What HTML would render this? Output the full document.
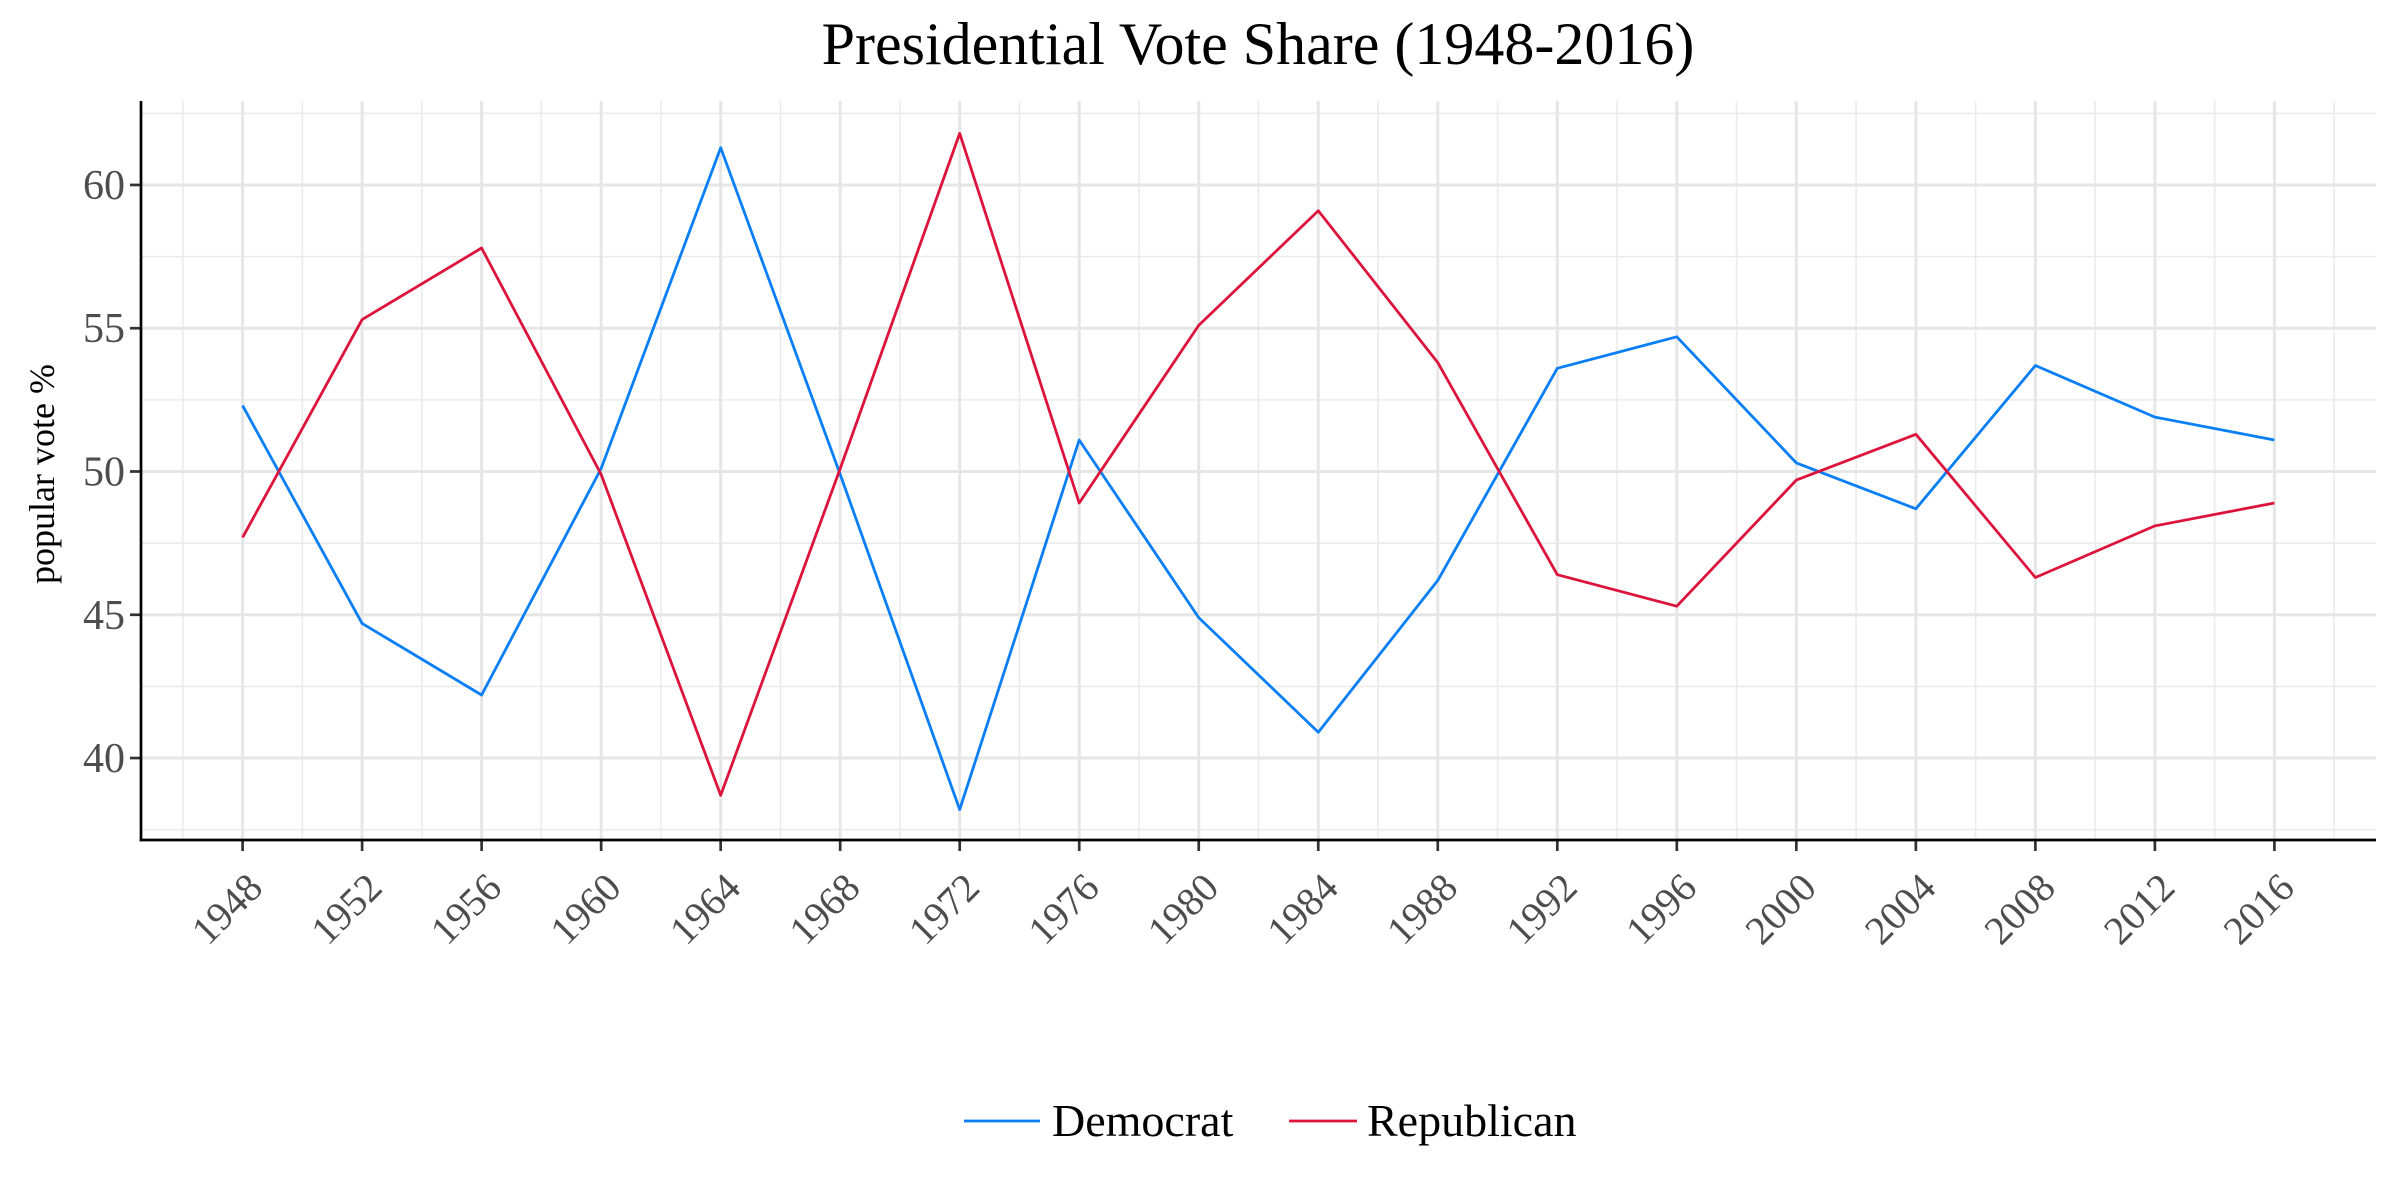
<!DOCTYPE html>
<html><head><meta charset="utf-8"><style>
html,body{margin:0;padding:0;background:#fff;}
svg{display:block;font-family:"Liberation Serif",serif;}
</style></head><body>
<svg id="chart" width="2400" height="1200" viewBox="0 0 2400 1200" xmlns="http://www.w3.org/2000/svg">
<text x="1258" y="64" font-size="60" text-anchor="middle" fill="#000">Presidential Vote Share (1948-2016)</text>
<g id="grid"></g>
<g id="series"></g>
<g id="axes"></g>
<text transform="translate(54,474) rotate(-90)" font-size="36" text-anchor="middle" fill="#000">popular vote %</text>
<g>
<line x1="964" y1="1121" x2="1040" y2="1121" stroke="#0a7ff5" stroke-width="2.8"/>
<text x="1052" y="1136" font-size="46" fill="#000">Democrat</text>
<line x1="1289" y1="1121" x2="1357" y2="1121" stroke="#dc143c" stroke-width="2.8"/>
<text x="1367" y="1136" font-size="46" fill="#000">Republican</text>
</g>
</svg>
<script>
const years = [1948,1952,1956,1960,1964,1968,1972,1976,1980,1984,1988,1992,1996,2000,2004,2008,2012,2016];
const democrat = [52.3,44.7,42.2,50.1,61.3,49.9,38.2,51.1,44.9,40.9,46.2,53.6,54.7,50.3,48.7,53.7,51.9,51.1];
const republican = [47.7,55.3,57.8,49.9,38.7,50.1,61.8,48.9,55.1,59.1,53.8,46.4,45.3,49.7,51.3,46.3,48.1,48.9];
const yTicks = [40,45,50,55,60];
const yTickLabels = ["40","45","50","55","60"];

const NS = "http://www.w3.org/2000/svg";
const L = 141, R = 2376, T = 101, B = 840;
const x0 = 1944.6, x1 = 2019.4, y0 = 37.14, y1 = 62.93;
const sx = v => L + (v - x0) / (x1 - x0) * (R - L);
const sy = v => B - (v - y0) / (y1 - y0) * (B - T);
function mk(tag, attrs, parent){ const e = document.createElementNS(NS, tag); for (const k in attrs) e.setAttribute(k, attrs[k]); parent.appendChild(e); return e; }

const grid = document.getElementById('grid');
for (let i = 0; i < yTicks.length + 1; i++) {
  const v = yTicks[0] - 2.5 + i * 5;
  if (v < y0 || v > y1) continue;
  const ln = mk('line', {x1:L, x2:R, y1:sy(v), y2:sy(v), stroke:'#ebebeb', 'stroke-width':1.6}, grid);
  
  
}
for (let i = 0; i <= years.length; i++) {
  const v = years[0] - 2 + i * 4;
  if (v < x0 || v > x1) continue;
  const ln = mk('line', {x1:sx(v), x2:sx(v), y1:T, y2:B, stroke:'#ebebeb', 'stroke-width':1.6}, grid);
  
  
}
yTicks.forEach(v => {
  const ln = mk('line', {x1:L, x2:R, y1:sy(v), y2:sy(v), stroke:'#e6e6e6', 'stroke-width':3}, grid);
  
  
});
years.forEach(v => {
  const ln = mk('line', {x1:sx(v), x2:sx(v), y1:T, y2:B, stroke:'#e6e6e6', 'stroke-width':3}, grid);
  
  
});

const series = document.getElementById('series');
function drawLine(vals, color, name){
  const pts = vals.map((v,i) => sx(years[i]).toFixed(1) + ',' + sy(v).toFixed(1)).join(' ');
  const p = mk('polyline', {points:pts, fill:'none', stroke:color, 'stroke-width':2.8, 'stroke-linejoin':'round'}, series);
  
  
}
drawLine(democrat, '#0a7ff5', 'democrat-line');
drawLine(republican, '#dc143c', 'republican-line');

const axes = document.getElementById('axes');
yTicks.forEach((v,i) => {
  const t = mk('line', {x1:L-11, x2:L, y1:sy(v), y2:sy(v), stroke:'#333', 'stroke-width':2.7}, axes);
  
  
  const lb = mk('text', {x:L-16, y:sy(v)+14, 'font-size':42, 'text-anchor':'end', fill:'#4d4d4d'}, axes);
  lb.textContent = yTickLabels[i];
  
  
});
years.forEach(v => {
  const x = sx(v);
  const t = mk('line', {x1:x, x2:x, y1:B, y2:B+11, stroke:'#333', 'stroke-width':2.7}, axes);
  
  
  const ax = x + 22, ay = B + 50;
  const lb = mk('text', {x:ax, y:ay, 'font-size':40, 'text-anchor':'end', fill:'#4d4d4d', transform:'rotate(-45 '+ax+' '+ay+')'}, axes);
  lb.textContent = String(v);
  
  
});
const ya = mk('line', {x1:L, x2:L, y1:T, y2:B+1.3, stroke:'#000', 'stroke-width':2.7}, axes);


const xa = mk('line', {x1:L-1.3, x2:R, y1:B, y2:B, stroke:'#000', 'stroke-width':2.7}, axes);


</script>
</body></html>
